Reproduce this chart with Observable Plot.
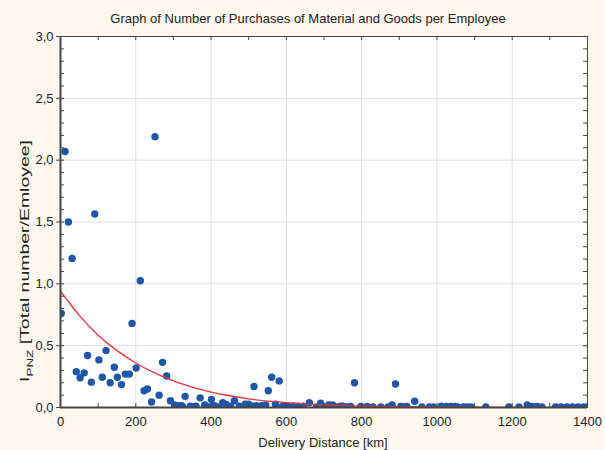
<!DOCTYPE html>
<html>
<head>
<meta charset="utf-8">
<script src="https://cdn.jsdelivr.net/npm/d3@7"></script>
<script src="https://cdn.jsdelivr.net/npm/@observablehq/plot@0.6"></script>
<style>
  html, body { margin: 0; padding: 0; background: #fcf8ed; }
  #chart { width: 605px; height: 450px; }
  svg { font-family: "Liberation Sans", Arial, sans-serif; }
</style>
</head>
<body>
<div id="chart"></div>
<script>
// Observed points: delivery distance [km] and purchases per employee
const distance = [2, 12, 21, 31, 91, 251, 212, 190,
  42, 52, 63, 72, 82, 102, 111, 121, 132, 143, 151, 162, 172, 183, 201, 222, 231, 242, 262, 271, 282, 292,
  303, 314, 322, 325, 331, 345, 355, 360, 371, 383, 395, 401, 409, 420, 431, 440, 452, 462, 475, 491, 500,
  510, 514, 520, 534, 545, 552, 561, 571, 581, 590, 600, 610, 619, 632, 645, 661, 680, 691, 700, 713, 723,
  735, 744, 750, 760, 771, 781, 798, 815, 830, 851, 870, 881, 890, 904, 910, 920, 941, 960, 980, 990,
  1011, 1025, 1037, 1047, 1055, 1070, 1080, 1090, 1130, 1191, 1218, 1240, 1253, 1266, 1279, 1315, 1330,
  1345, 1360, 1375, 1390, 1400];
const purchases = [0.76, 2.07, 1.50, 1.205, 1.565, 2.19, 1.025, 0.68,
  0.29, 0.24, 0.28, 0.42, 0.205, 0.385, 0.245, 0.46, 0.20, 0.325, 0.245, 0.185, 0.27, 0.27, 0.32, 0.135, 0.15, 0.045, 0.10, 0.365, 0.255, 0.055,
  0.02, 0.015, 0.015, 0.005, 0.09, 0.01, 0.005, 0.01, 0.078, 0.02, 0.005, 0.065, 0.015, 0.005, 0.038, 0.025, 0.01, 0.055, 0.01, 0.027, 0.027,
  0.01, 0.17, 0.015, 0.015, 0.02, 0.135, 0.245, 0.027, 0.215, 0.01, 0.015, 0.005, 0.01, 0.01, 0.01, 0.038, 0.005, 0.035, 0.005, 0.02, 0.02,
  0.005, 0.01, 0.01, 0.005, 0.008, 0.2, 0.008, 0.008, 0.005, 0.005, 0.005, 0.02, 0.19, 0.008, 0.005, 0.008, 0.05, 0.005, 0.005, 0.005,
  0.01, 0.008, 0.008, 0.008, 0.005, 0.005, 0.005, 0.005, 0.005, 0.005, 0.005, 0.02, 0.008, 0.008, 0.005, 0.005, 0.005,
  0.005, 0.005, 0.005, 0.005, 0.005];

// Fitted trend curve
const curveX = [0, 50, 100, 150, 200, 250, 300, 350, 400, 450, 500, 600, 700, 800, 1000, 1200, 1400];
const curveY = [0.94, 0.745, 0.585, 0.46, 0.36, 0.28, 0.215, 0.165, 0.125, 0.095, 0.07, 0.04, 0.022, 0.012, 0.004, 0.0015, 0.0005];

// Axis ticks
const xTicks = [0, 200, 400, 600, 800, 1000, 1200, 1400];
const yTicks = [0, 0.5, 1.0, 1.5, 2.0, 2.5, 3.0];
const xMinor = [0, 100, 200, 300, 400, 500, 600, 700, 800, 900, 1000, 1100, 1200, 1300, 1400];
const yMinor = [0, 0.1, 0.2, 0.3, 0.4, 0.5, 0.6, 0.7, 0.8, 0.9, 1.0, 1.1, 1.2, 1.3, 1.4, 1.5, 1.6, 1.7, 1.8, 1.9, 2.0, 2.1, 2.2, 2.3, 2.4, 2.5, 2.6, 2.7, 2.8, 2.9, 3.0];

const titleText = "Graph of Number of Purchases of Material and Goods per Employee";
const xTitle = "Delivery Distance [km]";

const points = distance.map((d, i) => ({x: d, y: purchases[i]}));
const curve = curveX.map((d, i) => ({x: d, y: curveY[i]}));

const W = 605, H = 450, mL = 60, mR = 18, mT = 36, mB = 43;
const plotW = W - mL - mR, plotH = H - mT - mB;
const fmt = d => d.toFixed(1).replace(".", ",");
const axisColor = "#444";

const chart = Plot.plot({
  width: W, height: H,
  marginLeft: mL, marginRight: mR, marginTop: mT, marginBottom: mB,
  style: {background: "transparent", fontFamily: "Liberation Sans, Arial, sans-serif", fontSize: "13px", color: "#222"},
  x: {domain: [0, 1400]},
  y: {domain: [0, 3]},
  marks: [
    Plot.frame({fill: "white", stroke: null}),
    Plot.gridX(xTicks, {stroke: "#dedede", strokeOpacity: 1, strokeWidth: 1}),
    Plot.gridY(yTicks, {stroke: "#dedede", strokeOpacity: 1, strokeWidth: 1}),
    Plot.dot(points, {x: "x", y: "y", r: 3.7, fill: "#1f56a8", stroke: null, clip: true}),
    Plot.line(curve, {x: "x", y: "y", stroke: "#e8343c", strokeWidth: 1.3, curve: "monotone-x", clip: true}),
    Plot.frame({stroke: axisColor, strokeWidth: 1}),
    // inside minor ticks on all four sides
    Plot.tickX(xMinor, {x: d => d, insetTop: plotH - 4, stroke: axisColor}),
    Plot.tickX(xMinor, {x: d => d, insetBottom: plotH - 4, stroke: axisColor}),
    Plot.tickY(yMinor, {y: d => d, insetRight: plotW - 4, stroke: axisColor}),
    Plot.tickY(yMinor, {y: d => d, insetLeft: plotW - 4, stroke: axisColor}),
    Plot.axisY({ticks: yTicks, tickFormat: fmt, tickSize: 4, tickPadding: 3, label: null, stroke: axisColor, fontSize: 13}),
    Plot.axisX({ticks: xTicks, tickFormat: d => String(d), tickSize: 0, tickPadding: 9, label: null, fontSize: 13}),
    Plot.ruleY([0], {stroke: axisColor, strokeWidth: 2}),
    Plot.ruleX([0], {stroke: axisColor, strokeWidth: 2})
  ]
});

const svg = d3.select(chart);
svg.append("text")
  .attr("x", 308).attr("y", 23)
  .attr("text-anchor", "middle")
  .attr("font-size", 13).attr("fill", "#222")
  .text(titleText);
svg.append("text")
  .attr("x", 323).attr("y", 447)
  .attr("text-anchor", "middle")
  .attr("font-size", 13).attr("fill", "#222")
  .text(xTitle);
const yt = svg.append("text")
  .attr("transform", "translate(29,261) rotate(-90)")
  .attr("text-anchor", "middle")
  .attr("font-size", 13).attr("fill", "#222")
  .attr("textLength", 242).attr("lengthAdjust", "spacingAndGlyphs");
yt.append("tspan").text("I");
yt.append("tspan").attr("font-size", 9).attr("dy", 4).text("PNZ");
yt.append("tspan").attr("dy", -4).text(" [Total number/Emloyee]");

document.getElementById("chart").appendChild(chart);
</script>
</body>
</html>
